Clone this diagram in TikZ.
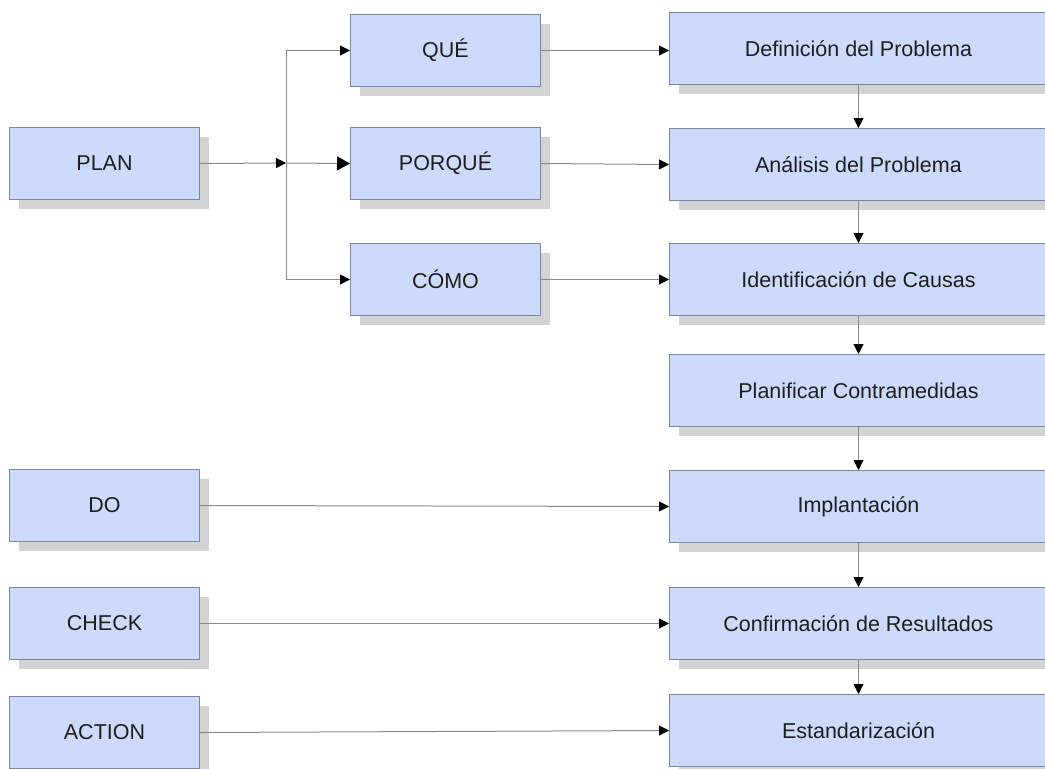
\documentclass[tikz,border=0pt]{standalone}
\usepackage{fontspec}
\setmainfont{Liberation Sans}
\usetikzlibrary{arrows.meta,shadows}
\definecolor{boxfill}{HTML}{CCDAFB}
\definecolor{boxline}{HTML}{7D889E}
\definecolor{shade}{HTML}{D3D3D3}
\definecolor{wire}{HTML}{8A8A8A}
\definecolor{ink}{HTML}{1E1E1E}
\begin{document}
\begin{tikzpicture}[x=1pt,y=-1pt,
  card/.style={draw=boxline,fill=boxfill,line width=1pt,anchor=north west,
    inner sep=0pt,minimum height=72pt,text=ink,
    font=\fontsize{21.5}{24}\selectfont,
    drop shadow={shadow xshift=9pt,shadow yshift=-9pt,fill=shade,opacity=1}},
  small/.style={card,minimum width=190pt},
  wide/.style={card,minimum width=378pt},
  link/.style={draw=wire,line width=1pt,-{Triangle[length=10pt,width=10pt,color=black]}},
  biglink/.style={draw=wire,line width=1pt,-{Triangle[length=13pt,width=14pt,color=black]}}]
\useasboundingbox (0,0) rectangle (1045,769);
\clip (0,0) rectangle (1045,769);

% PDCA stages
\node[small] (plan)   at (9,127) {PLAN};
\node[small] (do)     at (9,469) {DO};
\node[small] (check)  at (9,587) {CHECK};
\node[small] (action) at (9,696) {ACTION};

% planning questions
\node[small] (que)    at (350,14)  {QUÉ};
\node[small] (porque) at (350,127) {PORQUÉ};
\node[small] (como)   at (350,243) {CÓMO};

% process steps
\node[wide] (def) at (669,12)  {Definición del Problema};
\node[wide] (ana) at (669,128) {Análisis del Problema};
\node[wide] (ide) at (669,243) {Identificación de Causas};
\node[wide] (pla) at (669,354) {Planificar Contramedidas};
\node[wide] (imp) at (669,470) {Implantación};
\node[wide] (con) at (669,587) {Confirmación de Resultados};
\node[wide] (est) at (669,694) {Estandarización};

% branching from PLAN
\coordinate (j) at (286,163);
\draw[link] (plan.east) -- (j);
\draw[link] (j) |- (que.west);
\draw[biglink] (j) -- (porque.west);
\draw[link] (j) |- (como.west);

% questions to steps
\draw[link] (que.east) -- (que.east -| def.west);
\draw[link] (porque.east) -- (ana.west);
\draw[link] (como.east) -- (ide.west);

% stages to steps
\draw[link] (do.east) -- (imp.west);
\draw[link] (check.east) -- (con.west);
\draw[link] (action.east) -- (est.west);

% sequence of steps
\draw[link] (def.south) -- (ana.north);
\draw[link] (ana.south) -- (ide.north);
\draw[link] (ide.south) -- (pla.north);
\draw[link] (pla.south) -- (imp.north);
\draw[link] (imp.south) -- (con.north);
\draw[link] (con.south) -- (est.north);
\end{tikzpicture}
\end{document}
